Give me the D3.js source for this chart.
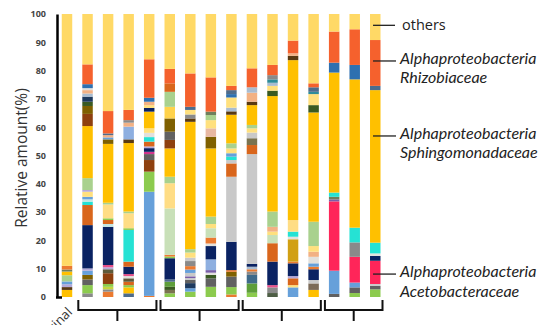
<!DOCTYPE html>
<html>
<head>
<meta charset="utf-8">
<script src="https://cdn.jsdelivr.net/npm/d3@7"></script>
<style>
  html, body { margin: 0; padding: 0; background: #fff; }
  svg { display: block; font-family: 'Open Sans', sans-serif; }
</style>
</head>
<body>
<div id="chart"></div>
<script>
// samples, left to right (only the first one has a readable name)
const samples = ['Original', 'A1', 'A2', 'A3', 'A4', 'B1', 'B2', 'B3', 'B4',
  'C1', 'C2', 'C3', 'C4', 'D1', 'D2', 'D3'];

// treatment groups drawn as brackets under the bars (sample index ranges)
const groups = [[1, 4], [5, 8], [9, 12], [13, 15]];

const yTicks = [0, 10, 20, 30, 40, 50, 60, 70, 80, 90, 100];

// relative amount (%) of each taxon, bottom to top, per sample
const composition = [
  [['gold', 2.5], ['darkbrown', 1.0], ['lavender', 1.0], ['lightblue', 1.0], ['palegreen', 2.2], ['gold', 1.3], ['graygreen', 0.7], ['orange', 1.3], ['others', 89.0]],
  [['gray', 1.3], ['lightgreen', 2.9], ['darkgray', 2.0], ['olive', 1.6], ['lightblue', 1.5], ['lavender', 0.8], ['navy', 15.3], ['orangebrown', 7.1], ['cyan', 1.2], ['palecyan', 0.8], ['lightblue', 0.9], ['yellow', 1.8], ['lavender', 0.6], ['palegreen', 4.2], ['gold', 18.4], ['brown', 4.3], ['olive', 2.8], ['darkgreen', 1.5], ['darkteal', 1.8], ['lightgrayblue', 1.1], ['tan', 1.2], ['palegray', 0.7], ['blue', 1.4], ['rhizo', 7.0], ['others', 17.8]],
  [['orange', 1.9], ['gray', 0.8], ['yellowgreen', 0.9], ['lightgreen', 1.0], ['brown', 3.8], ['darkolive', 1.4], ['lavender', 0.7], ['pink', 0.8], ['navy', 13.5], ['palecyan', 1.0], ['orangebrown', 1.4], ['lightgreen', 0.6], ['yellowpale', 4.9], ['palegreen', 0.6], ['gold', 20.8], ['olive', 1.6], ['lightblue', 0.7], ['tan', 0.8], ['grayblue', 0.6], ['rhizo', 7.9], ['others', 34.3]],
  [['grayblue', 1.3], ['gold', 2.1], ['lightgreen', 0.8], ['orangebrown', 1.2], ['darkolive', 1.2], ['palegray', 0.8], ['pink', 0.7], ['navy', 2.6], ['orangebrown', 1.8], ['cyan', 11.2], ['lightgreen', 0.6], ['yellowpale', 5.3], ['palegreen', 0.6], ['gold', 24.2], ['darkbrown', 1.3], ['lightblue2', 4.5], ['tan', 1.4], ['gray', 0.9], ['rhizo', 3.6], ['others', 33.9]],
  [['orange', 0.4], ['lightblue', 36.8], ['lightgreen', 7.1], ['brown', 4.1], ['darkgray', 2.1], ['magenta', 0.8], ['navy', 1.3], ['lavender', 0.6], ['orangebrown', 1.7], ['cyan', 1.6], ['palegray', 1.5], ['yellow', 1.6], ['gold', 5.9], ['navy', 1.3], ['yellow', 1.0], ['tan', 1.2], ['blue', 1.4], ['rhizo', 13.6], ['others', 16.0]],
  [['lightgreen', 1.3], ['grayolive', 1.2], ['darkgreen', 1.1], ['green', 1.8], ['grayblue', 0.8], ['navy', 7.5], ['lightgreen', 0.6], ['orange', 0.6], ['verypalegreen', 16.4], ['yellowpale', 8.9], ['palegreen', 2.3], ['gold', 10.0], ['brown', 3.0], ['darkgray', 2.9], ['olive', 4.7], ['deepyellow', 4.1], ['palegreen', 5.3], ['orangebrown', 3.0], ['rhizo', 5.1], ['others', 19.4]],
  [['lightgreen', 1.9], ['lightblue', 1.2], ['darkteal', 1.8], ['darkgray', 1.2], ['lightgray', 0.6], ['purple', 0.6], ['lightgray', 1.2], ['lightblue', 1.2], ['orange', 1.2], ['gray', 1.8], ['lightgray', 1.2], ['yellow', 1.8], ['palegreen', 1.2], ['gold', 45.0], ['darkbrown', 1.2], ['gray', 1.4], ['yellow', 1.6], ['grayblue', 1.1], ['rhizo', 11.8], ['others', 21.0]],
  [['lightgreen', 3.6], ['darkgray', 3.0], ['darkgreen', 1.2], ['palegray', 0.8], ['purple', 0.9], ['lightblue2', 3.8], ['navy', 4.7], ['palegray', 0.9], ['orange', 2.1], ['verypalegreen', 3.3], ['yellow', 1.5], ['palegreen', 2.6], ['gold', 24.1], ['olive', 4.1], ['pinktan', 3.0], ['yellow', 2.9], ['palegreen', 1.8], ['graygreen', 1.2], ['rhizo', 12.1], ['others', 22.4]],
  [['orange', 0.9], ['lightgreen', 2.6], ['darkgray', 3.7], ['olive', 1.7], ['orange', 0.6], ['navy', 10.0], ['lightgray', 23.0], ['orangebrown', 4.7], ['lightgray', 1.2], ['cyan', 1.2], ['lightblue', 1.2], ['yellow', 1.7], ['palegreen', 1.8], ['gold', 10.1], ['darkbrown', 1.2], ['lightgrayblue', 1.3], ['yellow', 3.6], ['blue', 1.2], ['grayblue', 1.4], ['rhizo', 1.5], ['others', 25.4]],
  [['lightgreen', 1.5], ['green', 3.3], ['bluegray', 3.0], ['gray', 1.2], ['orange', 0.8], ['lightgrayblue', 0.9], ['navy', 1.0], ['lightgray', 38.8], ['orangebrown', 3.2], ['grayolive', 2.4], ['lightgray', 2.0], ['yellow', 1.5], ['palegreen', 1.2], ['gold', 7.0], ['darkbrown', 1.2], ['tan', 3.2], ['lightgrayblue', 1.9], ['rhizo', 6.7], ['others', 19.2]],
  [['darkgraygreen', 1.4], ['gray', 2.0], ['pink', 0.8], ['navy', 8.3], ['orangebrown', 6.5], ['verypalegreen', 2.9], ['yellow', 1.2], ['tan', 1.7], ['palegreen', 5.4], ['gold', 40.8], ['darkgreen', 1.9], ['yellow', 1.7], ['lightgrayblue', 1.1], ['teal', 1.2], ['gray', 1.5], ['rhizo', 3.6], ['others', 18.0]],
  [['lightblue', 3.4], ['yellow', 0.8], ['orangebrown', 2.4], ['lavender', 0.8], ['navy', 4.5], ['orange', 0.6], ['mustard', 7.9], ['palegray', 0.9], ['cyan', 1.8], ['yellowpale', 4.1], ['gold', 56.5], ['darkbrown', 1.5], ['tan', 0.9], ['rhizo', 4.5], ['others', 9.4]],
  [['gold', 2.5], ['graybrown', 2.3], ['lightgray', 1.2], ['navy', 3.8], ['orange', 0.9], ['lightblue', 1.2], ['palegray', 2.3], ['tan', 1.8], ['yellow', 2.0], ['palegreen', 8.6], ['gold', 38.6], ['darkgreen', 2.6], ['yellow', 3.9], ['teal', 0.8], ['grayblue', 1.6], ['rhizo', 1.4], ['others', 24.5]],
  [['darkgray', 1.1], ['lightblue', 8.2], ['aceto', 24.5], ['purple', 0.7], ['graygreen', 0.9], ['cyan', 1.5], ['gold', 42.4], ['blue', 3.5], ['rhizo', 11.0], ['others', 6.2]],
  [['lightgreen', 1.4], ['darkgray', 2.0], ['lightblue', 1.7], ['aceto', 9.1], ['gray', 5.1], ['cyan', 5.2], ['gold', 52.4], ['blue', 5.1], ['rhizo', 12.6], ['others', 5.4]],
  [['lightgreen', 2.7], ['darkgray', 1.2], ['lightgray', 0.7], ['aceto', 8.2], ['navy', 1.7], ['palegray', 0.9], ['cyan', 3.8], ['gold', 53.9], ['grayblue', 1.5], ['rhizo', 16.2], ['others', 9.2]]
];

// labelled taxa on the right: [key, lines, value level in last bar]
const callouts = [
  ['others', ['others'], 96],
  ['rhizo', ['Alphaproteobacteria', 'Rhizobiaceae'], 83.4],
  ['gold', ['Alphaproteobacteria', 'Sphingomonadaceae'], 56.9],
  ['aceto', ['Alphaproteobacteria', 'Acetobacteraceae'], 8.1]
];

const colors = {
  others: '#FFD966', rhizo: '#F5612D', gold: '#FFC000', aceto: '#FF2559',
  navy: '#0A2262', lightblue: '#66A0DA', lightblue2: '#8EAFE0', blue: '#2E70B0',
  grayblue: '#4E6C8C', bluegray: '#3F6A8A', lightgrayblue: '#A9BCD0', cyan: '#25E2D4',
  palecyan: '#C4E6E2', teal: '#2E8C9A', darkteal: '#1E3A5E',
  lightgreen: '#8CCB4E', green: '#5E9E3A', yellowgreen: '#C4D640', palegreen: '#A9D18E',
  verypalegreen: '#C8E0B8', darkgreen: '#3A5A22', graygreen: '#6E7F5C', darkgraygreen: '#4E5E45',
  orangebrown: '#D9661C', orange: '#EB7A30', brown: '#8E400F', darkbrown: '#5A3A12',
  olive: '#7F6000', darkolive: '#5E5A3A', grayolive: '#7A7350', graybrown: '#7C6B58',
  mustard: '#D1A014', gray: '#8A8A8A', darkgray: '#616161', lightgray: '#C9C9C9',
  palegray: '#E2E0DC', tan: '#F2B184', pinktan: '#E8B8A2', yellow: '#FFE07E',
  yellowpale: '#FFDD85', deepyellow: '#FFD24A', lavender: '#B3A8D8', purple: '#7A5EA8',
  pink: '#E8508A', magenta: '#D2348E'
};

const width = 553;
const height = 325;

const svg = d3.select('#chart').append('svg')
  .attr('width', width)
  .attr('height', height);

const x = d3.scaleBand().domain(d3.range(samples.length))
  .range([61.75, 380.5]).paddingInner(0.49).paddingOuter(0);
const y = d3.scaleLinear().domain([0, 100]).range([297, 14]);

// stacked bars
const barG = svg.append('g');
composition.forEach(function(segs, i) {
  let base = 0;
  const rows = segs.map(function(s) {
    const row = {key: s[0], y0: base, y1: base + s[1]};
    base += s[1];
    return row;
  });
  barG.append('g').selectAll('rect').data(rows).enter().append('rect')
    .attr('x', x(i))
    .attr('width', x.bandwidth())
    .attr('y', function(d) { return y(d.y1); })
    .attr('height', function(d) { return y(d.y0) - y(d.y1); })
    .attr('fill', function(d) { return colors[d.key]; });
});

// y axis
const axisG = svg.append('g').attr('transform', 'translate(57,0)')
  .call(d3.axisLeft(y).tickValues(yTicks).tickSize(0).tickPadding(11));
axisG.select('.domain').attr('stroke', '#000').attr('stroke-width', 2.5);
axisG.selectAll('text')
  .attr('font-size', 9)
  .attr('font-weight', 'bold')
  .attr('fill', '#444')
  .attr('font-family', "'Open Sans', sans-serif");
svg.append('line')
  .attr('x1', 56).attr('x2', 62)
  .attr('y1', y(0) + 0.5).attr('y2', y(0) + 0.5)
  .attr('stroke', '#000').attr('stroke-width', 2.5);

svg.append('text')
  .attr('transform', 'translate(27,158) rotate(-90)')
  .attr('text-anchor', 'middle')
  .attr('font-size', 15.5)
  .attr('fill', '#333')
  .text('Relative amount(%)');

// first sample label, rotated; it runs off the bottom edge as in the figure
svg.append('text')
  .attr('transform', 'translate(73,313) rotate(-45)')
  .attr('text-anchor', 'end')
  .attr('font-size', 13)
  .attr('fill', '#333')
  .text(samples[0]);

// group brackets
const brG = svg.append('g').attr('fill', 'none').attr('stroke', '#111').attr('stroke-width', 2);
groups.forEach(function(gr) {
  const x0 = x(gr[0]) - 4;
  const x1 = x(gr[1]) + x.bandwidth() + 2;
  brG.append('path').attr('d', 'M' + x0 + ',300V310H' + x1 + 'V300');
  const mid = (x0 + x1) / 2;
  brG.append('path').attr('d', 'M' + mid + ',310V321');
});

// callouts on the right
const last = samples.length - 1;
const lx0 = x(last) + 3;
const calloutG = svg.append('g');
callouts.forEach(function(c) {
  const ly = y(c[2]);
  const italic = c[1].length > 1;
  calloutG.append('line')
    .attr('x1', lx0).attr('x2', italic ? 396 : 395)
    .attr('y1', ly).attr('y2', ly)
    .attr('stroke', '#222').attr('stroke-width', 1.3);
  const tx = italic ? 400 : 402;
  c[1].forEach(function(line, k) {
    calloutG.append('text')
      .attr('x', tx)
      .attr('y', italic ? ly + 3 + k * 19.5 : ly + 5)
      .attr('font-family', italic ? 'Lato, sans-serif' : "'Open Sans', sans-serif")
      .attr('font-size', italic ? 16 : 14.5)
      .attr('font-style', italic ? 'italic' : 'normal')
      .attr('fill', '#222')
      .text(line);
  });
});
</script>
</body>
</html>
